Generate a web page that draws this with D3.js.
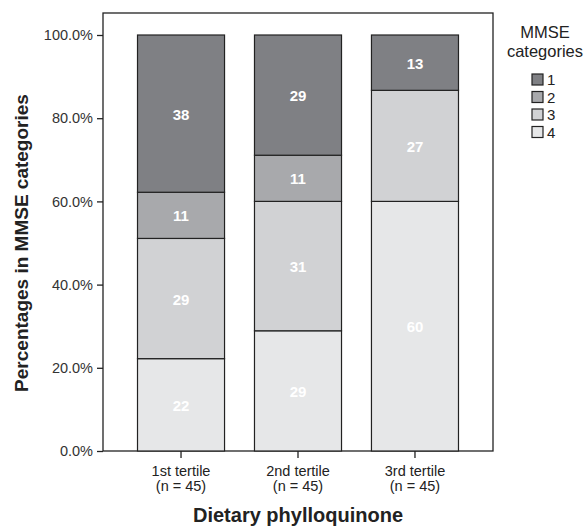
<!DOCTYPE html>
<html>
<head>
<meta charset="utf-8">
<script src="https://cdn.jsdelivr.net/npm/d3@7"></script>
<style>
  body { margin: 0; background: #fff; }
  text { font-family: "Liberation Sans", Arial, sans-serif; }
</style>
</head>
<body>
<svg id="chart"></svg>
<script>
// tertiles of dietary phylloquinone, n = 45 each
const tertiles = ["1st tertile", "2nd tertile", "3rd tertile"];
const nLabels = ["(n = 45)", "(n = 45)", "(n = 45)"];
const mmseCats = ["1", "2", "3", "4"];
// percentages per MMSE category (1..4) in each tertile
const cat1 = [37.8, 28.9, 13.3];
const cat2 = [11.1, 11.1, 0];
const cat3 = [28.9, 31.1, 26.7];
const cat4 = [22.2, 28.9, 60.0];
const yTicks = [0, 20, 40, 60, 80, 100];
const catColors = ["#7f8084", "#a8a9ac", "#d1d2d4", "#e6e7e8"];

const w = 587, h = 527;
const frame = { left: 103, top: 13, right: 493, bottom: 451 };

const svg = d3.select("#chart").attr("width", w).attr("height", h);

// stack from bottom: category 4 first, then 3, 2, 1
const rows = tertiles.map((t, i) => ({ t: t, "1": cat1[i], "2": cat2[i], "3": cat3[i], "4": cat4[i] }));
const stackOrder = ["4", "3", "2", "1"];
const series = d3.stack().keys(stackOrder)(rows);

const x = d3.scaleBand().domain(tertiles)
  .range([frame.left, frame.right])
  .paddingInner(0.256).paddingOuter(0.295);
const y = d3.scaleLinear().domain([0, 100]).range([451, 35]);

const color = d3.scaleOrdinal().domain(mmseCats).range(catColors);

// frame
svg.append("rect")
  .attr("x", frame.left).attr("y", frame.top)
  .attr("width", frame.right - frame.left).attr("height", frame.bottom - frame.top)
  .attr("fill", "none").attr("stroke", "#222").attr("stroke-width", 1.3);

// bars
const groups = svg.append("g").selectAll("g")
  .data(series).enter().append("g")
  .attr("fill", d => color(d.key));

groups.selectAll("rect")
  .data(d => d.filter(s => s[1] - s[0] > 0))
  .enter().append("rect")
  .attr("x", d => x(d.data.t))
  .attr("y", d => y(d[1]))
  .attr("width", x.bandwidth())
  .attr("height", d => y(d[0]) - y(d[1]))
  .attr("stroke", "#222").attr("stroke-width", 1.2);

groups.selectAll("text")
  .data(d => d.filter(s => s[1] - s[0] > 0))
  .enter().append("text")
  .attr("x", d => x(d.data.t) + x.bandwidth() / 2)
  .attr("y", d => (y(d[0]) + y(d[1])) / 2 + 6)
  .attr("text-anchor", "middle")
  .attr("fill", "#fff")
  .attr("font-size", 15).attr("font-weight", "bold")
  .text(d => Math.round(d[1] - d[0]));

// y axis
const yAxis = svg.append("g")
  .attr("transform", `translate(${frame.left},0)`)
  .call(d3.axisLeft(y).tickValues(yTicks).tickSize(6).tickPadding(4)
    .tickFormat(d => d.toFixed(1) + "%"));
yAxis.select(".domain").remove();
yAxis.selectAll("line").attr("stroke", "#222").attr("stroke-width", 1.3);
yAxis.selectAll("text").attr("font-size", 14.5).attr("fill", "#333")
  .attr("font-family", "Liberation Sans, Arial, sans-serif");

// x axis
const xAxis = svg.append("g")
  .attr("transform", `translate(0,${frame.bottom})`)
  .call(d3.axisBottom(x).tickSize(7).tickFormat(""));
xAxis.select(".domain").remove();
xAxis.selectAll("line").attr("stroke", "#222").attr("stroke-width", 1.3);

// two-line category labels as separate texts
const xlg = svg.append("g");
xlg.selectAll("text.cat").data(tertiles).enter().append("text")
  .attr("class", "cat")
  .attr("x", d => x(d) + x.bandwidth() / 2).attr("y", 475.5)
  .attr("text-anchor", "middle")
  .attr("font-size", 14.5).attr("fill", "#222")
  .text(d => d);
xlg.selectAll("text.n").data(tertiles).enter().append("text")
  .attr("class", "n")
  .attr("x", d => x(d) + x.bandwidth() / 2).attr("y", 490.5)
  .attr("text-anchor", "middle")
  .attr("font-size", 14.5).attr("fill", "#222")
  .text((d, i) => nLabels[i]);

// axis titles
svg.append("text")
  .attr("x", (frame.left + frame.right) / 2).attr("y", 522)
  .attr("text-anchor", "middle")
  .attr("font-size", 20).attr("font-weight", "bold").attr("fill", "#222")
  .text("Dietary phylloquinone");

svg.append("text")
  .attr("transform", "translate(28,243) rotate(-90)")
  .attr("text-anchor", "middle")
  .attr("font-size", 19).attr("font-weight", "bold").attr("fill", "#222")
  .text("Percentages in MMSE categories");

// legend
const lg = svg.append("g");
lg.append("text").attr("x", 545).attr("y", 38).attr("text-anchor", "middle")
  .attr("font-size", 16.5).attr("fill", "#222").text("MMSE");
lg.append("text").attr("x", 545).attr("y", 57).attr("text-anchor", "middle")
  .attr("font-size", 16.5).attr("fill", "#222").text("categories");

const items = lg.selectAll("g.item").data(mmseCats).enter().append("g")
  .attr("transform", (d, i) => `translate(532,${74 + i * 17.5})`);
items.append("rect").attr("width", 11).attr("height", 11)
  .attr("fill", d => color(d)).attr("stroke", "#222").attr("stroke-width", 1.2);
items.append("text").attr("x", 15).attr("y", 11)
  .attr("font-size", 15).attr("fill", "#222").text(d => d);
</script>
</body>
</html>
